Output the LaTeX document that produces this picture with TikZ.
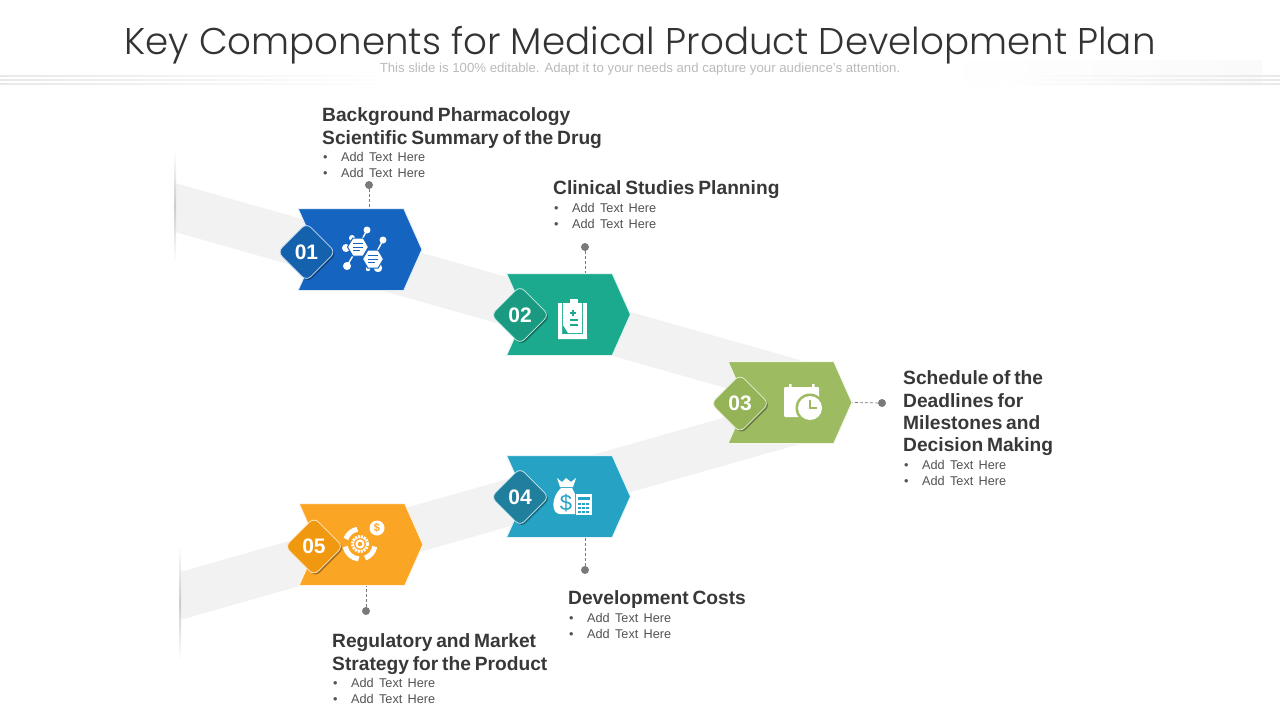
\documentclass[tikz,border=0pt]{standalone}
\usepackage{fontspec}
\setmainfont{Liberation Sans}
\newfontfamily\titlefont{Poppins}[UprightFont=* Light]
\newfontfamily\listfont{Liberation Sans}[WordSpace=1.5]
\usetikzlibrary{positioning,shapes.geometric,shapes.symbols,shadows}
\definecolor{blueA}{HTML}{1565C0}
\definecolor{blueB}{HTML}{1461AE}
\definecolor{greenA}{HTML}{1BAA8E}
\definecolor{greenB}{HTML}{1A9B81}
\definecolor{oliveA}{HTML}{9DBB61}
\definecolor{oliveB}{HTML}{94B457}
\definecolor{cyanA}{HTML}{26A3C4}
\definecolor{cyanB}{HTML}{1F7F9C}
\definecolor{amberA}{HTML}{FBA524}
\definecolor{amberB}{HTML}{F0980F}
\newcommand{\addlines}{\makebox[18pt][l]{\textbullet}Add Text Here\\\makebox[18pt][l]{\textbullet}Add Text Here}
\begin{document}
\begin{tikzpicture}[
      x=1pt,y=-1pt,
      band/.style={fill=black!5,draw=none},
      edgeline/.style={draw=none,top color=white,bottom color=white,middle color=black!20},
      rule/.style={draw=none,left color=black!9,right color=white},
      ruler/.style={draw=none,right color=black!9,left color=white},
      chevron/.style={signal,signal to=east,signal from=west,signal pointer angle=132,
        minimum width=124pt,minimum height=82pt,inner sep=0pt,line width=1pt},
      badge/.style={diamond,aspect=1,rounded corners=6pt,minimum size=58pt,inner sep=0pt,
        line width=.8pt,text=white,font=\fontsize{21}{23}\selectfont\bfseries,
        drop shadow={shadow xshift=1.5pt,shadow yshift=-1.5pt,opacity=.35,fill=black}},
      pin/.style={circle,fill=black!52,minimum size=8pt,inner sep=0pt},
      pinline/.style={draw=black!52,densely dashed,line width=.7pt},
      headtext/.style={align=left,inner sep=0pt,text=black!78,
        font={\fontsize{19.2}{22.4}\selectfont\bfseries\spaceskip=3.8pt\relax}},
      listtext/.style={align=left,inner sep=0pt,text=black!68,xshift=1pt,
        font=\fontsize{12.7}{16}\listfont},
      icon/.style={fill=white,draw=none}
    ]
    \useasboundingbox (0,0) rectangle (1280,720);

    \shade[left color=white,right color=black!2] (930,60) rectangle (1262,85);
    \foreach \y in {76,80,84} {
      \path[rule] (0,\y-.5) rectangle (400,\y+.5);
      \path[ruler] (1000,\y-.5) rectangle (1280,\y+.5);
    }

    \path[band] (175,183) -- (800,360) -- (800,409) -- (175,232) -- cycle;
    \path[band] (180,572) -- (800,396) -- (800,444) -- (180,620) -- cycle;
    \path[edgeline] (174,150) rectangle (176,262);
    \path[edgeline] (179,545) rectangle (181,660);

    \path (640,45) node(title) [inner sep=0pt,font=\fontsize{37.2}{40}\titlefont,text=black!80] {Key Components for Medical Product Development Plan}
    (640,69.5) node(subtitle) [inner sep=0pt,font=\fontsize{13.2}{14}\selectfont,text=black!27] {This slide is 100\% editable. Adapt it to your needs and capture your audience's attention.};

    \path (360,249.5) node(chev1) [chevron,fill=blueA,draw=blueA!12] {}
    (568.5,314.5) node(chev2) [chevron,fill=greenA,draw=greenA!12] {}
    (790,402.5) node(chev3) [chevron,fill=oliveA,draw=oliveA!12] {}
    (568.5,496.5) node(chev4) [chevron,fill=cyanA,draw=cyanA!12] {}
    (361,544.5) node(chev5) [chevron,fill=amberA,draw=amberA!12] {};

    \path (306.5,252) node(badge1) [badge,fill=blueB,draw=blueA!25] {01}
    (520,315) node(badge2) [badge,fill=greenB,draw=greenA!25] {02}
    (740,403.5) node(badge3) [badge,fill=oliveB,draw=oliveA!25] {03}
    (520,497) node(badge4) [badge,fill=cyanB,draw=cyanA!25] {04}
    (314,546.5) node(badge5) [badge,fill=amberB,draw=amberA!25] {05};

    \path (369,185) node(pin1) [pin] {}
    (585,247) node(pin2) [pin] {}
    (882,403) node(pin3) [pin] {}
    (585,570) node(pin4) [pin] {}
    (366,611) node(pin5) [pin] {};
    \draw[pinline] (pin1) -- (pin1 |- chev1.north);
    \draw[pinline] (pin2) -- (pin2 |- chev2.north);
    \draw[pinline] (pin3) -- (chev3.east);
    \draw[pinline] (pin4) -- (pin4 |- chev4.south);
    \draw[pinline] (pin5) -- (pin5 |- chev5.south);

    \draw[white,line width=1.4pt] (358,247) -- (367,230) (358,247) -- (352,238) (358,247) -- (346,248)
    (358,247) -- (347,266) (373,259) -- (383,240) (373,259) -- (378,268) (373,259) -- (368,269);
    \foreach \cx/\cy/\r in {367/230/3.5,352/238/3,346/248/4,347/266/4,383/240/3.5,378/268/4.2,368/269/2.2} {
      \fill[white] (\cx,\cy) circle (\r);
    }
    \fill[white,draw=blueA,line width=1pt] (368.5,247) -- (363.2,256) -- (352.8,256) -- (347.5,247) -- (352.8,238) -- (363.2,238) -- cycle;
    \fill[white,draw=blueA,line width=1pt] (383.5,259) -- (378.2,268) -- (367.8,268) -- (362.5,259) -- (367.8,250) -- (378.2,250) -- cycle;
    \draw[blueA,line width=1pt] (353,243.5) -- (363,243.5) (353,247) -- (363,247) (353,250.5) -- (360,250.5)
    (368,255.5) -- (378,255.5) (368,259) -- (378,259) (368,262.5) -- (375,262.5);

    \fill[icon] (558,303) -- (562,303) -- (562,334) -- (587,334) -- (587,339) -- (558,339) -- cycle;
    \fill[icon] (583,303) rectangle (587,335);
    \fill[icon] (563,303) -- (582,303) -- (582,333) -- (568,333) -- (563,325) -- cycle;
    \fill[icon] (570,299) rectangle (578,304);
    \draw[greenA,line width=1.3pt] (570,313) -- (576,313) (573,310) -- (573,316) (570,320) -- (578,320) (570,325) -- (578,325);

    \fill[icon,rounded corners=1pt] (784,387) rectangle (819,417);
    \fill[icon] (789,384) rectangle (791.5,388) (812,384) rectangle (814.5,388);
    \fill[oliveA] (810,408) circle (14.5);
    \fill[white] (810,408) circle (12);
    \draw[oliveA,line width=1.4pt] (810,400) -- (810,408) -- (817,408);

    \fill[icon] (557,478) -- (562,482) -- (566,478) -- (571,482) -- (576,478) -- (573,487) -- (560,487) -- cycle;
    \fill[icon] (561,488) -- (572,488) -- (575,494) -- (575,514) -- (560,514) .. controls (551,514) and (551,497) .. (561,488) -- cycle;
    \node (dollar4) [text=cyanA,font=\fontsize{22}{22}\selectfont,inner sep=0pt] at (566,503) {\$};
    \fill[icon] (576,494) rectangle (592,515);
    \fill[cyanA] (578,497) rectangle (590,500);
    \foreach \cx in {578,582,586} {
      \foreach \cy in {503,507,511} {
        \fill[cyanA] (\cx,\cy) rectangle (\cx+2.5,\cy+2);
      }
    }

    \foreach \a/\b in {-160/-100,-190/-265,-290/-350} {
      \draw[white,line width=5pt] (360,544) ++(\a:15) arc[start angle=\a,end angle=\b,radius=15];
    }
    \draw[white,line width=2pt] (360,544) circle (3.5);
    \draw[white,line width=3pt,dash pattern=on 2pt off 1pt] (360,544) circle (7.5);
    \fill[white] (377,528) circle (7.5);
    \node (dollar5) [text=amberA,font=\fontsize{11}{11}\selectfont\bfseries,inner sep=0pt] at (377,528) {\$};

    \node (head1) [headtext,anchor=north west] at (322,107.5) {Background Pharmacology\\Scientific Summary of the Drug};
    \node (list1) [listtext,below=4pt of head1.south west,anchor=north west] {\addlines};
    \node (head2) [headtext,anchor=north west] at (553,180.5) {Clinical Studies Planning};
    \node (list2) [listtext,below=4pt of head2.south west,anchor=north west] {\addlines};
    \node (head3) [headtext,anchor=north west] at (903,370.5) {Schedule of the\\Deadlines for\\Milestones and\\Decision Making};
    \node (list3) [listtext,below=4pt of head3.south west,anchor=north west] {\addlines};
    \node (head4) [headtext,anchor=north west] at (568,590.5) {Development Costs};
    \node (list4) [listtext,below=4pt of head4.south west,anchor=north west] {\addlines};
    \node (head5) [headtext,anchor=north west] at (332,633.5) {Regulatory and Market\\Strategy for the Product};
    \node (list5) [listtext,below=4pt of head5.south west,anchor=north west] {\addlines};
  \end{tikzpicture}
\end{document}
